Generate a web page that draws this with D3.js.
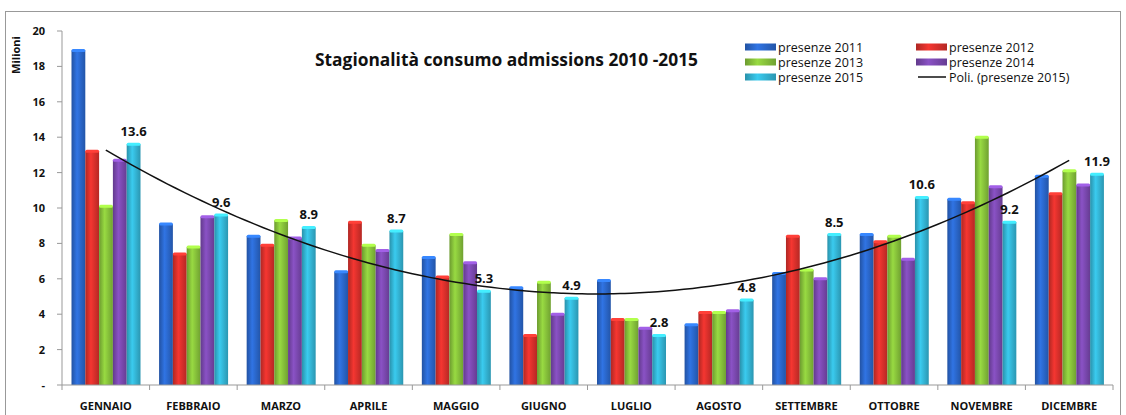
<!DOCTYPE html>
<html><head>
<meta charset="utf-8">
<script src="https://d3js.org/d3.v7.min.js"></script>
<style>
  body { margin: 0; background: #fff; }
  text { font-family: "Open Sans", "Liberation Sans", sans-serif; fill: #111; }
  .tick-y, .cat { font-weight: 700; font-size: 11px; }
  .lbl { font-weight: 700; font-size: 13px; }
  .leg { font-size: 12.5px; }
</style>
</head>
<body>
<svg id="chart" width="1126" height="415"></svg>
<script>

// months (categories)
const months = ["GENNAIO","FEBBRAIO","MARZO","APRILE","MAGGIO","GIUGNO","LUGLIO","AGOSTO","SETTEMBRE","OTTOBRE","NOVEMBRE","DICEMBRE"];
const seriesNames = ["presenze 2011","presenze 2012","presenze 2013","presenze 2014","presenze 2015"];

// values in millions
const p2011 = [18.9, 9.1, 8.4, 6.4, 7.2, 5.5, 5.9, 3.4, 6.3, 8.5, 10.5, 11.8];
const p2012 = [13.2, 7.4, 7.9, 9.2, 6.1, 2.8, 3.7, 4.1, 8.4, 8.1, 10.3, 10.8];
const p2013 = [10.1, 7.8, 9.3, 7.9, 8.5, 5.8, 3.7, 4.1, 6.5, 8.4, 14.0, 12.1];
const p2014 = [12.7, 9.5, 8.3, 7.6, 6.9, 4.0, 3.2, 4.2, 6.0, 7.1, 11.2, 11.3];
const p2015 = [13.6, 9.6, 8.9, 8.7, 5.3, 4.9, 2.8, 4.8, 8.5, 10.6, 9.2, 11.9];
const yTicks = [0, 2, 4, 6, 8, 10, 12, 14, 16, 18, 20];

const allSeries = [p2011, p2012, p2013, p2014, p2015];
const colors = ["#2a66c9", "#d8302b", "#86c03a", "#7a48ae", "#33b3d3"];

const svg = d3.select("#chart");

// outer frame
svg.append("rect").attr("x", 5.5).attr("y", 11.5).attr("width", 1115).attr("height", 420)
   .attr("fill", "none").attr("stroke", "#999").attr("stroke-width", 1);

// cylinder-ish gradients
const defs = svg.append("defs");
colors.forEach((c, i) => {
  const g = defs.append("linearGradient").attr("id", "g" + i).attr("x1", 0).attr("x2", 1).attr("y1", 0).attr("y2", 0);
  g.append("stop").attr("offset", "0%").attr("stop-color", d3.color(c).darker(0.6));
  g.append("stop").attr("offset", "40%").attr("stop-color", d3.color(c).brighter(0.35));
  g.append("stop").attr("offset", "100%").attr("stop-color", d3.color(c).darker(0.5));
});

const x0 = d3.scaleBand().domain(months).range([62, 1113]);
const x1 = d3.scaleBand().domain(d3.range(5)).range([9.5, 78.5]);
const y = d3.scaleLinear().domain([0, 20]).range([385, 31]);

// y axis
svg.append("line").attr("x1", 62).attr("x2", 62).attr("y1", 31).attr("y2", 385).attr("stroke", "#999");
svg.selectAll("line.yt").data(yTicks).join("line").attr("class", "yt")
   .attr("x1", 57).attr("x2", 62).attr("y1", d => y(d)).attr("y2", d => y(d)).attr("stroke", "#999");
svg.selectAll("text.tick-y").data(yTicks).join("text").attr("class", "tick-y")
   .attr("x", 45).attr("y", d => y(d) + 4).attr("text-anchor", "end")
   .text(d => d === 0 ? "-" : d);

svg.append("text").attr("transform", "translate(20,55) rotate(-90)")
   .attr("text-anchor", "middle").style("font-weight", 700).style("font-size", "11px").text("Milioni");

// bars
const groups = svg.selectAll("g.month").data(months).join("g").attr("class", "month")
   .attr("transform", d => "translate(" + x0(d) + ",0)");
allSeries.forEach((s, si) => {
  groups.append("rect")
    .attr("x", x1(si)).attr("width", x1.bandwidth())
    .attr("y", (d, i) => y(s[i])).attr("height", (d, i) => y(0) - y(s[i]))
    .attr("fill", "url(#g" + si + ")");
  groups.append("rect")
    .attr("x", x1(si)).attr("width", x1.bandwidth())
    .attr("y", (d, i) => y(s[i]) - 1.5).attr("height", 3).attr("rx", 1.5)
    .attr("fill", d3.color(colors[si]).brighter(0.8));
});

// x axis
svg.append("line").attr("x1", 62).attr("x2", 1113).attr("y1", 385).attr("y2", 385).attr("stroke", "#999");
svg.selectAll("line.xt").data(d3.range(13)).join("line").attr("class", "xt")
   .attr("x1", i => 62 + i * x0.bandwidth()).attr("x2", i => 62 + i * x0.bandwidth())
   .attr("y1", 385).attr("y2", 390).attr("stroke", "#999");
svg.selectAll("text.cat").data(months).join("text").attr("class", "cat")
   .attr("x", d => x0(d) + x0.bandwidth() / 2).attr("y", 410).attr("text-anchor", "middle").text(d => d);

// polynomial (order 2) trendline of presenze 2015, least squares
const xs = d3.range(1, 13);
const S = k => d3.sum(xs, v => Math.pow(v, k));
const T = k => d3.sum(xs, (v, i) => Math.pow(v, k) * p2015[i]);
function solve3(A, b) {
  const det = m => m[0][0]*(m[1][1]*m[2][2]-m[1][2]*m[2][1]) - m[0][1]*(m[1][0]*m[2][2]-m[1][2]*m[2][0]) + m[0][2]*(m[1][0]*m[2][1]-m[1][1]*m[2][0]);
  const D = det(A);
  return [0, 1, 2].map(c => det(A.map((row, r) => row.map((v, j) => j === c ? b[r] : v))) / D);
}
const coef = solve3([[S(0), S(1), S(2)], [S(1), S(2), S(3)], [S(2), S(3), S(4)]], [T(0), T(1), T(2)]);
const trend = d3.range(1, 12.001, 0.1).map(t => [t, coef[0] + coef[1] * t + coef[2] * t * t]);
const xt = d3.scaleLinear().domain([1, 12]).range([x0(months[0]) + x0.bandwidth() / 2, x0(months[11]) + x0.bandwidth() / 2]);
svg.append("path").datum(trend)
   .attr("d", d3.line().x(d => xt(d[0])).y(d => y(d[1])).curve(d3.curveBasis))
   .attr("fill", "none").attr("stroke", "#111").attr("stroke-width", 1.5);

// labels for 2015
svg.selectAll("text.lbl").data(months).join("text").attr("class", "lbl")
   .attr("x", d => x0(d) + x1(4) + x1.bandwidth() / 2)
   .attr("y", (d, i) => y(p2015[i]) - 8).attr("text-anchor", "middle")
   .text((d, i) => p2015[i].toFixed(1));

// title
svg.append("text").attr("x", 315).attr("y", 66).attr("textLength", 383).attr("lengthAdjust", "spacingAndGlyphs")
   .style("font-weight", 700).style("font-size", "17px").text("Stagionalità consumo admissions  2010 -2015");

// legend
const legItems = [
  { name: seriesNames[0], c: 0, x: 745, y: 47 },
  { name: seriesNames[1], c: 1, x: 916, y: 47 },
  { name: seriesNames[2], c: 2, x: 745, y: 62 },
  { name: seriesNames[3], c: 3, x: 916, y: 62 },
  { name: seriesNames[4], c: 4, x: 745, y: 77 },
  { name: "Poli. (presenze 2015)", c: -1, x: 916, y: 77 }
];
legItems.forEach(d => {
  if (d.c >= 0) {
    svg.append("rect").attr("x", d.x).attr("y", d.y - 3.5).attr("width", 31).attr("height", 7).attr("fill", "url(#g" + d.c + ")");
  } else {
    svg.append("line").attr("x1", d.x + 2).attr("x2", d.x + 30).attr("y1", d.y).attr("y2", d.y).attr("stroke", "#111").attr("stroke-width", 1.5);
  }
  svg.append("text").attr("class", "leg").attr("x", d.x + 33).attr("y", d.y + 4.5).text(d.name);
});

</script>
</body>
</html>
